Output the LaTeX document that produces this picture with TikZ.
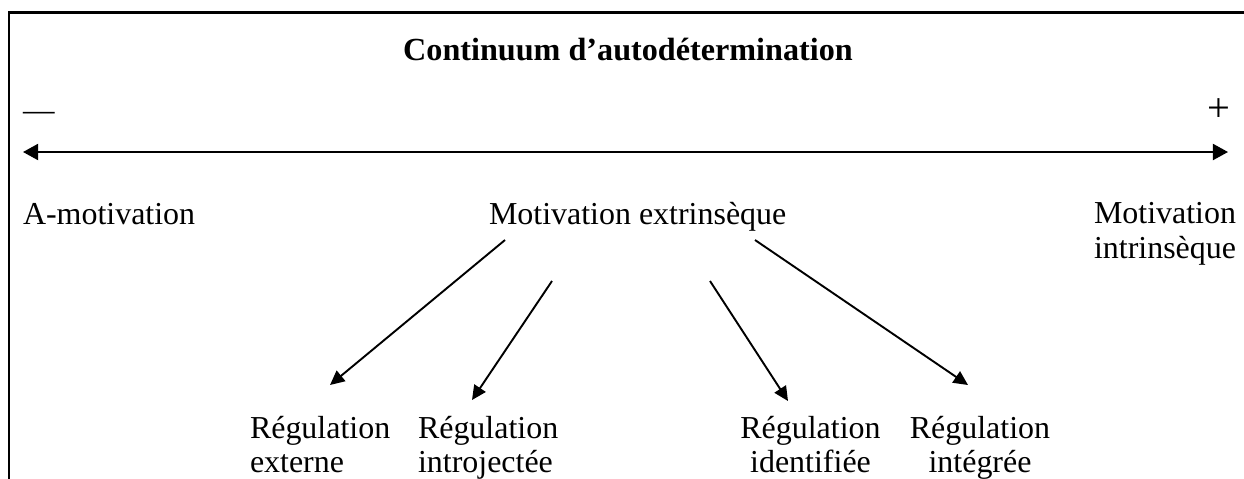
\documentclass[tikz,border=0pt]{standalone}
\usepackage{fontspec}
\setmainfont{Liberation Serif}
\usetikzlibrary{arrows.meta}
\begin{document}
\begin{tikzpicture}[x=0.4444pt,y=-0.4444pt,
  txt/.style={inner sep=0pt, outer sep=0pt, font=\fontsize{14.2}{15.3}\selectfont},
  big/.style={inner sep=0pt, outer sep=0pt, font=\fontsize{14}{16}\selectfont},
  frame/.style={line width=0.9pt},
  axis/.style={line width=0.95pt, {Triangle[length=6.7pt,width=7.1pt]}-{Triangle[length=6.7pt,width=7.1pt]}},
  branch/.style={line width=0.85pt, -{Triangle[length=6.4pt,width=6pt]}}]
\useasboundingbox (0,0) rectangle (1244,478);
% frame (top and left sides only visible)
\coordinate (fb) at (9,478);
\coordinate (fc) at (9,12.5);
\coordinate (fr) at (1244,12.5);
\draw[frame, line cap=rect] (fb) -- (fc) -- (fr);
% title
\node[inner sep=0pt, font=\fontsize{14.3}{16}\selectfont\bfseries, anchor=base] (title) at (628,60.5) {Continuum d’autodétermination};
% minus / plus
\node[big, anchor=base west] (minus) at (23,120) {—};
\node[big, font=\fontsize{18}{20}\selectfont, anchor=base east] (plus) at (1230,121.5) {+};
% axis
\coordinate (al) at (23,152);
\coordinate (ar) at (1228,152);
\draw[axis] (al) -- (ar);
% labels
\node[txt, anchor=base west] (amot) at (23,224) {A-motivation};
\node[txt, anchor=base west] (extr) at (489,224) {Motivation extrinsèque};
\node[txt, anchor=base east, align=left] (intr) at (1236,258) {Motivation\\intrinsèque};
\node[txt, anchor=base west, align=left] (rext) at (250,472.5) {Régulation\\externe};
\node[txt, anchor=base west, align=left] (rint) at (418,472.5) {Régulation\\introjectée};
\node[txt, anchor=base, align=center] (rid) at (810.5,472.5) {Régulation\\identifiée};
\node[txt, anchor=base, align=center] (rig) at (980,472.5) {Régulation\\intégrée};
% branch arrows
\coordinate (s1) at (505,240);
\coordinate (t1) at (330,385);
\coordinate (s2) at (552,281);
\coordinate (t2) at (472,400);
\coordinate (s3) at (710,281);
\coordinate (t3) at (788,401);
\coordinate (s4) at (755,240);
\coordinate (t4) at (968,385);
\draw[branch] (s1) -- (t1);
\draw[branch] (s2) -- (t2);
\draw[branch] (s3) -- (t3);
\draw[branch] (s4) -- (t4);
\end{tikzpicture}
\end{document}
